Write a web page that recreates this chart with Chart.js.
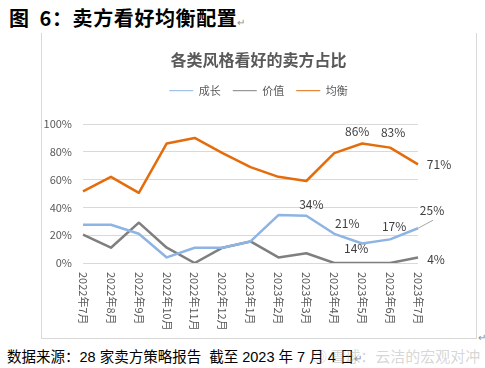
<!DOCTYPE html>
<html>
<head>
<meta charset="utf-8">
<script src="https://cdn.jsdelivr.net/npm/chart.js@4.4.0/dist/chart.umd.min.js"></script>
<style>
  body { margin: 0; width: 485px; height: 368px; position: relative; background: #fff; overflow: hidden; font-family: "Noto Sans CJK SC", sans-serif; }
  #head { position: absolute; left: 9px; top: 6px; font-size: 20px; line-height: 24px; font-weight: 700; color: #000; white-space: nowrap; letter-spacing: 0.6px; }
  #head .num { margin-left: 10px; }
  .mark { font-size: 10px; color: #8c8c8c; font-weight: 400; letter-spacing: 0; }
  #box { position: absolute; left: 41px; top: 33px; width: 436px; height: 306px; box-sizing: border-box; border: 1px solid #d9d9d9; border-top: none; }
  #chart { position: absolute; left: 41px; top: 33px; }
  #foot { position: absolute; left: 7px; top: 348px; font-size: 14.5px; line-height: 18px; color: #000; white-space: nowrap; font-family: "Liberation Sans", "Noto Sans CJK SC", sans-serif; }
  #mark2 { position: absolute; left: 478px; top: 329px; }
  #wm { position: absolute; left: 312px; top: 346px; font-size: 15px; line-height: 20px; color: rgba(150, 150, 150, 0.4); white-space: nowrap; }
</style>
</head>
<body>
<div id="head">图<span class="num">6</span>：卖方看好均衡配置<span class="mark">↵</span></div>
<div id="box"></div>
<canvas id="chart" width="435" height="305"></canvas>
<span id="mark2" class="mark">↵</span>
<div id="foot">数据来源：28 家卖方策略报告&nbsp; 截至 2023 年 7 月 4 日<span class="mark">↵</span></div>
<div id="wm">◎ 雪球：云洁的宏观对冲</div>
<script>
'use strict';

let months = ['2022年7月', '2022年8月', '2022年9月', '2022年10月', '2022年11月', '2022年12月', '2023年1月',
  '2023年2月', '2023年3月', '2023年4月', '2023年5月', '2023年6月', '2023年7月'];
let growth = [27.5, 27.5, 21, 4, 11, 11, 15.5, 34.5, 34, 21, 14, 17, 25];
let value = [20.5, 11, 29, 11, 0, 11, 15.5, 4, 7, 0, 0, 0, 4];
let balance = [51.5, 62, 50.5, 86, 90, 79, 69, 62, 59, 79, 86, 83, 71];
let seriesNames = ['成长', '价值', '均衡'];
let yTicks = [0, 20, 40, 60, 80, 100];

// which points carry a value label, and where the label sits next to the point
let pointLabels = [
  {ds: 0, i: 8, dx: 5, dy: -11},
  {ds: 0, i: 9, dx: 13, dy: -10},
  {ds: 0, i: 10, dx: -6, dy: 5},
  {ds: 0, i: 11, dx: 4, dy: -13},
  {ds: 0, i: 12, dx: 14, dy: -18, leader: true},
  {ds: 1, i: 12, dx: 18, dy: 2},
  {ds: 2, i: 10, dx: -5, dy: -12},
  {ds: 2, i: 11, dx: 3, dy: -15},
  {ds: 2, i: 12, dx: 21, dy: 0}
];

Chart.defaults.font.family = '"Noto Sans CJK SC", sans-serif';

let valueLabels = {
  id: 'valueLabels',
  afterDatasetsDraw(chart) {
    let ctx = chart.ctx;
    ctx.save();
    ctx.font = '12px "Noto Sans CJK SC", sans-serif';
    ctx.fillStyle = '#404040';
    ctx.textAlign = 'center';
    ctx.textBaseline = 'middle';
    for (let k = 0; k < pointLabels.length; k++) {
      let p = pointLabels[k];
      let pt = chart.getDatasetMeta(p.ds).data[p.i];
      let v = chart.data.datasets[p.ds].data[p.i];
      if (p.leader) {
        ctx.strokeStyle = '#a6a6a6';
        ctx.lineWidth = 1;
        ctx.beginPath();
        ctx.moveTo(pt.x, pt.y);
        ctx.lineTo(pt.x + 15, pt.y - 8);
        ctx.stroke();
      }
      ctx.fillText(Math.round(v) + '%', pt.x + p.dx, pt.y + p.dy);
    }
    ctx.restore();
  }
};

// month labels read top to bottom, as in the source
let monthLabels = {
  id: 'monthLabels',
  afterDraw(chart) {
    let ctx = chart.ctx;
    let xs = chart.scales.x;
    ctx.save();
    ctx.font = '11px "Noto Sans CJK SC", sans-serif';
    ctx.fillStyle = '#595959';
    ctx.textAlign = 'left';
    ctx.textBaseline = 'middle';
    for (let i = 0; i < months.length; i++) {
      ctx.save();
      ctx.translate(xs.getPixelForTick(i), chart.chartArea.bottom + 9);
      ctx.rotate(Math.PI / 2);
      ctx.fillText(months[i], 0, 0);
      ctx.restore();
    }
    ctx.restore();
  }
};

let ctx = document.getElementById('chart').getContext('2d');
let myChart = new Chart(ctx, {
  type: 'line',
  data: {
    labels: months,
    datasets: [
      {label: seriesNames[0], data: growth, borderColor: '#8db4e2', backgroundColor: '#8db4e2'},
      {label: seriesNames[1], data: value, borderColor: '#7f7f7f', backgroundColor: '#7f7f7f'},
      {label: seriesNames[2], data: balance, borderColor: '#e46c0a', backgroundColor: '#e46c0a'}
    ]
  },
  options: {
    responsive: false,
    animation: false,
    layout: {padding: 0},
    elements: {
      line: {borderWidth: 2.5, tension: 0, borderJoinStyle: 'round'},
      point: {radius: 0, hoverRadius: 0}
    },
    scales: {
      x: {
        offset: false,
        grid: {display: false},
        border: {display: false},
        ticks: {display: false},
        afterFit: s => { s.height = 75; }
      },
      y: {
        min: 0,
        max: 100,
        afterBuildTicks: s => { s.ticks = yTicks.map(v => ({value: v})); },
        grid: {color: '#d9d9d9', lineWidth: 1, drawTicks: false},
        border: {display: false},
        ticks: {color: '#595959', font: {size: 11}, padding: 11, callback: v => v + '%'},
        afterFit: s => { s.width = 42; }
      },
      yRight: {
        position: 'right',
        grid: {display: false},
        border: {display: false},
        ticks: {display: false},
        afterFit: s => { s.width = 58; }
      }
    },
    plugins: {
      title: {
        display: true,
        text: '各类风格看好的卖方占比',
        color: '#595959',
        font: {size: 16, weight: 'bold'},
        padding: {top: 17, bottom: 4}
      },
      legend: {
        display: true,
        labels: {
          color: '#595959',
          font: {size: 11},
          usePointStyle: true,
          pointStyle: 'line',
          pointStyleWidth: 24,
          padding: 12
        }
      },
      subtitle: {
        display: true,
        text: '',
        weight: 500,
        font: {size: 10},
        padding: {top: 0, bottom: 5.8}
      },
      tooltip: {enabled: false}
    }
  },
  plugins: [valueLabels, monthLabels]
});
</script>
</body>
</html>
